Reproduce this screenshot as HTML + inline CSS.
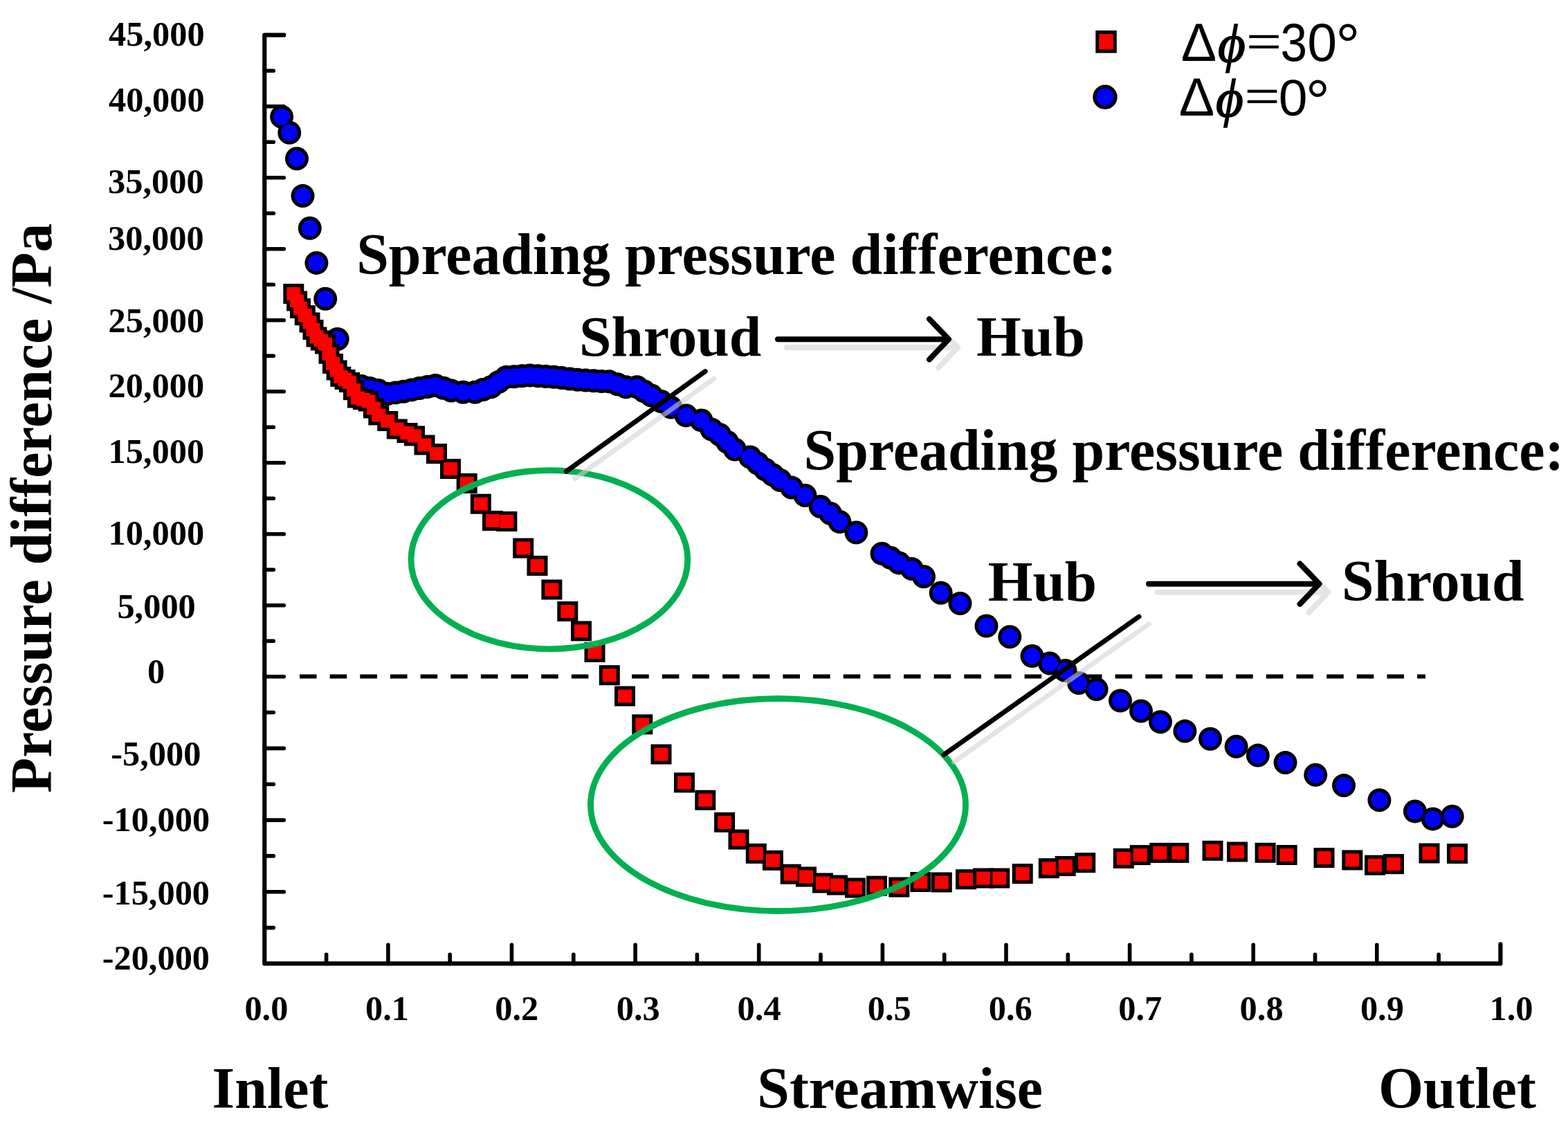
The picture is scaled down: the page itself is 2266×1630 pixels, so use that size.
<!DOCTYPE html>
<html><head><meta charset="utf-8"><title>Pressure difference chart</title>
<style>html,body{margin:0;padding:0;background:#fff;}svg{display:block;}</style></head>
<body><svg width="2266" height="1630" viewBox="0 0 2266 1630">
<rect width="2266" height="1630" fill="#fff"/>
<path d="M410.3,50.7 L382.3,50.7 L382.3,1392.4 L2168.4,1392.4 L2168.4,1364.4" fill="none" stroke="#000" stroke-width="6.2" stroke-linejoin="round" stroke-linecap="round"/>
<line x1="382.3" y1="102.2" x2="395.3" y2="102.2" stroke="#000" stroke-width="5.6" stroke-linecap="round"/>
<line x1="382.3" y1="153.7" x2="410.3" y2="153.7" stroke="#000" stroke-width="5.6" stroke-linecap="round"/>
<line x1="382.3" y1="205.2" x2="395.3" y2="205.2" stroke="#000" stroke-width="5.6" stroke-linecap="round"/>
<line x1="382.3" y1="256.7" x2="410.3" y2="256.7" stroke="#000" stroke-width="5.6" stroke-linecap="round"/>
<line x1="382.3" y1="308.2" x2="395.3" y2="308.2" stroke="#000" stroke-width="5.6" stroke-linecap="round"/>
<line x1="382.3" y1="359.7" x2="410.3" y2="359.7" stroke="#000" stroke-width="5.6" stroke-linecap="round"/>
<line x1="382.3" y1="411.2" x2="395.3" y2="411.2" stroke="#000" stroke-width="5.6" stroke-linecap="round"/>
<line x1="382.3" y1="462.7" x2="410.3" y2="462.7" stroke="#000" stroke-width="5.6" stroke-linecap="round"/>
<line x1="382.3" y1="514.2" x2="395.3" y2="514.2" stroke="#000" stroke-width="5.6" stroke-linecap="round"/>
<line x1="382.3" y1="565.7" x2="410.3" y2="565.7" stroke="#000" stroke-width="5.6" stroke-linecap="round"/>
<line x1="382.3" y1="617.2" x2="395.3" y2="617.2" stroke="#000" stroke-width="5.6" stroke-linecap="round"/>
<line x1="382.3" y1="668.7" x2="410.3" y2="668.7" stroke="#000" stroke-width="5.6" stroke-linecap="round"/>
<line x1="382.3" y1="720.2" x2="395.3" y2="720.2" stroke="#000" stroke-width="5.6" stroke-linecap="round"/>
<line x1="382.3" y1="771.7" x2="410.3" y2="771.7" stroke="#000" stroke-width="5.6" stroke-linecap="round"/>
<line x1="382.3" y1="823.2" x2="395.3" y2="823.2" stroke="#000" stroke-width="5.6" stroke-linecap="round"/>
<line x1="382.3" y1="874.7" x2="410.3" y2="874.7" stroke="#000" stroke-width="5.6" stroke-linecap="round"/>
<line x1="382.3" y1="926.2" x2="395.3" y2="926.2" stroke="#000" stroke-width="5.6" stroke-linecap="round"/>
<line x1="382.3" y1="977.7" x2="410.3" y2="977.7" stroke="#000" stroke-width="5.6" stroke-linecap="round"/>
<line x1="382.3" y1="1029.5" x2="395.3" y2="1029.5" stroke="#000" stroke-width="5.6" stroke-linecap="round"/>
<line x1="382.3" y1="1081.4" x2="410.3" y2="1081.4" stroke="#000" stroke-width="5.6" stroke-linecap="round"/>
<line x1="382.3" y1="1133.2" x2="395.3" y2="1133.2" stroke="#000" stroke-width="5.6" stroke-linecap="round"/>
<line x1="382.3" y1="1185.1" x2="410.3" y2="1185.1" stroke="#000" stroke-width="5.6" stroke-linecap="round"/>
<line x1="382.3" y1="1236.9" x2="395.3" y2="1236.9" stroke="#000" stroke-width="5.6" stroke-linecap="round"/>
<line x1="382.3" y1="1288.7" x2="410.3" y2="1288.7" stroke="#000" stroke-width="5.6" stroke-linecap="round"/>
<line x1="382.3" y1="1340.6" x2="395.3" y2="1340.6" stroke="#000" stroke-width="5.6" stroke-linecap="round"/>
<line x1="471.6" y1="1392.4" x2="471.6" y2="1379.4" stroke="#000" stroke-width="5.6" stroke-linecap="round"/>
<line x1="560.9" y1="1392.4" x2="560.9" y2="1365.4" stroke="#000" stroke-width="5.6" stroke-linecap="round"/>
<line x1="650.2" y1="1392.4" x2="650.2" y2="1379.4" stroke="#000" stroke-width="5.6" stroke-linecap="round"/>
<line x1="739.5" y1="1392.4" x2="739.5" y2="1365.4" stroke="#000" stroke-width="5.6" stroke-linecap="round"/>
<line x1="828.8" y1="1392.4" x2="828.8" y2="1379.4" stroke="#000" stroke-width="5.6" stroke-linecap="round"/>
<line x1="918.1" y1="1392.4" x2="918.1" y2="1365.4" stroke="#000" stroke-width="5.6" stroke-linecap="round"/>
<line x1="1007.4" y1="1392.4" x2="1007.4" y2="1379.4" stroke="#000" stroke-width="5.6" stroke-linecap="round"/>
<line x1="1096.7" y1="1392.4" x2="1096.7" y2="1365.4" stroke="#000" stroke-width="5.6" stroke-linecap="round"/>
<line x1="1186.0" y1="1392.4" x2="1186.0" y2="1379.4" stroke="#000" stroke-width="5.6" stroke-linecap="round"/>
<line x1="1275.4" y1="1392.4" x2="1275.4" y2="1365.4" stroke="#000" stroke-width="5.6" stroke-linecap="round"/>
<line x1="1364.7" y1="1392.4" x2="1364.7" y2="1379.4" stroke="#000" stroke-width="5.6" stroke-linecap="round"/>
<line x1="1454.0" y1="1392.4" x2="1454.0" y2="1365.4" stroke="#000" stroke-width="5.6" stroke-linecap="round"/>
<line x1="1543.3" y1="1392.4" x2="1543.3" y2="1379.4" stroke="#000" stroke-width="5.6" stroke-linecap="round"/>
<line x1="1632.6" y1="1392.4" x2="1632.6" y2="1365.4" stroke="#000" stroke-width="5.6" stroke-linecap="round"/>
<line x1="1721.9" y1="1392.4" x2="1721.9" y2="1379.4" stroke="#000" stroke-width="5.6" stroke-linecap="round"/>
<line x1="1811.2" y1="1392.4" x2="1811.2" y2="1365.4" stroke="#000" stroke-width="5.6" stroke-linecap="round"/>
<line x1="1900.5" y1="1392.4" x2="1900.5" y2="1379.4" stroke="#000" stroke-width="5.6" stroke-linecap="round"/>
<line x1="1989.8" y1="1392.4" x2="1989.8" y2="1365.4" stroke="#000" stroke-width="5.6" stroke-linecap="round"/>
<line x1="2079.1" y1="1392.4" x2="2079.1" y2="1379.4" stroke="#000" stroke-width="5.6" stroke-linecap="round"/>
<line x1="433" y1="977.5" x2="2060" y2="977.5" stroke="#000" stroke-width="6" stroke-dasharray="24.6 19.05"/>
<g fill="#000"><circle cx="407.1" cy="168.7" r="17.0"/><circle cx="418.3" cy="191.8" r="17.0"/><circle cx="429.0" cy="229.3" r="17.0"/><circle cx="437.5" cy="283.1" r="17.0"/><circle cx="447.8" cy="329.7" r="17.0"/><circle cx="457.4" cy="379.9" r="17.0"/><circle cx="470.2" cy="431.8" r="17.0"/><circle cx="487.7" cy="490.0" r="17.0"/><circle cx="522.0" cy="558.0" r="17.0"/><circle cx="534.2" cy="561.0" r="17.0"/><circle cx="546.5" cy="564.0" r="17.0"/><circle cx="560.3" cy="569.0" r="17.0"/><circle cx="571.8" cy="567.4" r="17.0"/><circle cx="583.3" cy="565.7" r="17.0"/><circle cx="594.8" cy="563.4" r="17.0"/><circle cx="606.2" cy="561.0" r="17.0"/><circle cx="617.7" cy="559.0" r="17.0"/><circle cx="629.2" cy="557.0" r="17.0"/><circle cx="640.7" cy="560.8" r="17.0"/><circle cx="652.1" cy="564.5" r="17.0"/><circle cx="669.3" cy="566.8" r="17.0"/><circle cx="686.5" cy="566.8" r="17.0"/><circle cx="698.0" cy="563.0" r="17.0"/><circle cx="709.5" cy="559.3" r="17.0"/><circle cx="720.5" cy="552.1" r="17.0"/><circle cx="731.5" cy="545.0" r="17.0"/><circle cx="743.0" cy="544.2" r="17.0"/><circle cx="754.4" cy="543.3" r="17.0"/><circle cx="765.9" cy="542.5" r="17.0"/><circle cx="777.4" cy="543.3" r="17.0"/><circle cx="788.8" cy="544.0" r="17.0"/><circle cx="800.3" cy="544.8" r="17.0"/><circle cx="811.8" cy="546.1" r="17.0"/><circle cx="823.2" cy="547.5" r="17.0"/><circle cx="834.7" cy="548.8" r="17.0"/><circle cx="846.2" cy="549.5" r="17.0"/><circle cx="857.7" cy="550.3" r="17.0"/><circle cx="869.2" cy="551.0" r="17.0"/><circle cx="880.0" cy="551.3" r="17.0"/><circle cx="892.2" cy="555.3" r="17.0"/><circle cx="904.5" cy="559.3" r="17.0"/><circle cx="920.5" cy="559.3" r="17.0"/><circle cx="930.9" cy="565.4" r="17.0"/><circle cx="941.3" cy="571.5" r="17.0"/><circle cx="955.4" cy="580.0" r="17.0"/><circle cx="969.5" cy="588.5" r="17.0"/><circle cx="991.5" cy="600.4" r="17.0"/><circle cx="1013.6" cy="607.4" r="17.0"/><circle cx="1028.4" cy="620.6" r="17.0"/><circle cx="1040.0" cy="628.0" r="17.0"/><circle cx="1051.0" cy="638.8" r="17.0"/><circle cx="1062.0" cy="649.5" r="17.0"/><circle cx="1084.0" cy="660.5" r="17.0"/><circle cx="1095.0" cy="669.5" r="17.0"/><circle cx="1106.0" cy="678.5" r="17.0"/><circle cx="1116.8" cy="686.2" r="17.0"/><circle cx="1127.6" cy="694.0" r="17.0"/><circle cx="1144.0" cy="704.6" r="17.0"/><circle cx="1163.5" cy="716.0" r="17.0"/><circle cx="1185.6" cy="732.0" r="17.0"/><circle cx="1200.0" cy="742.0" r="17.0"/><circle cx="1213.4" cy="754.0" r="17.0"/><circle cx="1237.4" cy="769.5" r="17.0"/><circle cx="1274.5" cy="799.9" r="17.0"/><circle cx="1287.0" cy="806.0" r="17.0"/><circle cx="1299.2" cy="813.4" r="17.0"/><circle cx="1317.7" cy="822.1" r="17.0"/><circle cx="1335.0" cy="833.2" r="17.0"/><circle cx="1359.7" cy="856.7" r="17.0"/><circle cx="1387.5" cy="872.0" r="17.0"/><circle cx="1425.5" cy="904.5" r="17.0"/><circle cx="1459.3" cy="920.3" r="17.0"/><circle cx="1491.5" cy="948.0" r="17.0"/><circle cx="1517.0" cy="958.5" r="17.0"/><circle cx="1539.5" cy="969.0" r="17.0"/><circle cx="1559.0" cy="987.0" r="17.0"/><circle cx="1584.6" cy="996.0" r="17.0"/><circle cx="1619.0" cy="1012.5" r="17.0"/><circle cx="1649.0" cy="1027.5" r="17.0"/><circle cx="1677.0" cy="1043.2" r="17.0"/><circle cx="1712.4" cy="1056.6" r="17.0"/><circle cx="1749.0" cy="1067.7" r="17.0"/><circle cx="1786.6" cy="1078.8" r="17.0"/><circle cx="1817.8" cy="1091.6" r="17.0"/><circle cx="1857.5" cy="1102.1" r="17.0"/><circle cx="1901.2" cy="1119.7" r="17.0"/><circle cx="1942.0" cy="1135.1" r="17.0"/><circle cx="1993.4" cy="1156.3" r="17.0"/><circle cx="2044.9" cy="1172.4" r="17.0"/><circle cx="2070.7" cy="1183.4" r="17.0"/><circle cx="2098.7" cy="1179.8" r="17.0"/></g><g fill="#0000ff"><circle cx="407.1" cy="168.7" r="12.0"/><circle cx="418.3" cy="191.8" r="12.0"/><circle cx="429.0" cy="229.3" r="12.0"/><circle cx="437.5" cy="283.1" r="12.0"/><circle cx="447.8" cy="329.7" r="12.0"/><circle cx="457.4" cy="379.9" r="12.0"/><circle cx="470.2" cy="431.8" r="12.0"/><circle cx="487.7" cy="490.0" r="12.0"/><circle cx="522.0" cy="558.0" r="12.0"/><circle cx="534.2" cy="561.0" r="12.0"/><circle cx="546.5" cy="564.0" r="12.0"/><circle cx="560.3" cy="569.0" r="12.0"/><circle cx="571.8" cy="567.4" r="12.0"/><circle cx="583.3" cy="565.7" r="12.0"/><circle cx="594.8" cy="563.4" r="12.0"/><circle cx="606.2" cy="561.0" r="12.0"/><circle cx="617.7" cy="559.0" r="12.0"/><circle cx="629.2" cy="557.0" r="12.0"/><circle cx="640.7" cy="560.8" r="12.0"/><circle cx="652.1" cy="564.5" r="12.0"/><circle cx="669.3" cy="566.8" r="12.0"/><circle cx="686.5" cy="566.8" r="12.0"/><circle cx="698.0" cy="563.0" r="12.0"/><circle cx="709.5" cy="559.3" r="12.0"/><circle cx="720.5" cy="552.1" r="12.0"/><circle cx="731.5" cy="545.0" r="12.0"/><circle cx="743.0" cy="544.2" r="12.0"/><circle cx="754.4" cy="543.3" r="12.0"/><circle cx="765.9" cy="542.5" r="12.0"/><circle cx="777.4" cy="543.3" r="12.0"/><circle cx="788.8" cy="544.0" r="12.0"/><circle cx="800.3" cy="544.8" r="12.0"/><circle cx="811.8" cy="546.1" r="12.0"/><circle cx="823.2" cy="547.5" r="12.0"/><circle cx="834.7" cy="548.8" r="12.0"/><circle cx="846.2" cy="549.5" r="12.0"/><circle cx="857.7" cy="550.3" r="12.0"/><circle cx="869.2" cy="551.0" r="12.0"/><circle cx="880.0" cy="551.3" r="12.0"/><circle cx="892.2" cy="555.3" r="12.0"/><circle cx="904.5" cy="559.3" r="12.0"/><circle cx="920.5" cy="559.3" r="12.0"/><circle cx="930.9" cy="565.4" r="12.0"/><circle cx="941.3" cy="571.5" r="12.0"/><circle cx="955.4" cy="580.0" r="12.0"/><circle cx="969.5" cy="588.5" r="12.0"/><circle cx="991.5" cy="600.4" r="12.0"/><circle cx="1013.6" cy="607.4" r="12.0"/><circle cx="1028.4" cy="620.6" r="12.0"/><circle cx="1040.0" cy="628.0" r="12.0"/><circle cx="1051.0" cy="638.8" r="12.0"/><circle cx="1062.0" cy="649.5" r="12.0"/><circle cx="1084.0" cy="660.5" r="12.0"/><circle cx="1095.0" cy="669.5" r="12.0"/><circle cx="1106.0" cy="678.5" r="12.0"/><circle cx="1116.8" cy="686.2" r="12.0"/><circle cx="1127.6" cy="694.0" r="12.0"/><circle cx="1144.0" cy="704.6" r="12.0"/><circle cx="1163.5" cy="716.0" r="12.0"/><circle cx="1185.6" cy="732.0" r="12.0"/><circle cx="1200.0" cy="742.0" r="12.0"/><circle cx="1213.4" cy="754.0" r="12.0"/><circle cx="1237.4" cy="769.5" r="12.0"/><circle cx="1274.5" cy="799.9" r="12.0"/><circle cx="1287.0" cy="806.0" r="12.0"/><circle cx="1299.2" cy="813.4" r="12.0"/><circle cx="1317.7" cy="822.1" r="12.0"/><circle cx="1335.0" cy="833.2" r="12.0"/><circle cx="1359.7" cy="856.7" r="12.0"/><circle cx="1387.5" cy="872.0" r="12.0"/><circle cx="1425.5" cy="904.5" r="12.0"/><circle cx="1459.3" cy="920.3" r="12.0"/><circle cx="1491.5" cy="948.0" r="12.0"/><circle cx="1517.0" cy="958.5" r="12.0"/><circle cx="1539.5" cy="969.0" r="12.0"/><circle cx="1559.0" cy="987.0" r="12.0"/><circle cx="1584.6" cy="996.0" r="12.0"/><circle cx="1619.0" cy="1012.5" r="12.0"/><circle cx="1649.0" cy="1027.5" r="12.0"/><circle cx="1677.0" cy="1043.2" r="12.0"/><circle cx="1712.4" cy="1056.6" r="12.0"/><circle cx="1749.0" cy="1067.7" r="12.0"/><circle cx="1786.6" cy="1078.8" r="12.0"/><circle cx="1817.8" cy="1091.6" r="12.0"/><circle cx="1857.5" cy="1102.1" r="12.0"/><circle cx="1901.2" cy="1119.7" r="12.0"/><circle cx="1942.0" cy="1135.1" r="12.0"/><circle cx="1993.4" cy="1156.3" r="12.0"/><circle cx="2044.9" cy="1172.4" r="12.0"/><circle cx="2070.7" cy="1183.4" r="12.0"/><circle cx="2098.7" cy="1179.8" r="12.0"/></g>
<g fill="#000"><rect x="409.3" y="410.0" width="30.0" height="29.0"/><rect x="419.0" y="431.0" width="30.0" height="29.0"/><rect x="432.5" y="451.5" width="30.0" height="29.0"/><rect x="442.5" y="472.5" width="30.0" height="29.0"/><rect x="455.0" y="482.5" width="30.0" height="29.0"/><rect x="466.0" y="511.0" width="30.0" height="29.0"/><rect x="477.3" y="529.9" width="30.0" height="29.0"/><rect x="490.0" y="538.0" width="30.0" height="29.0"/><rect x="502.0" y="560.5" width="30.0" height="29.0"/><rect x="517.6" y="565.5" width="30.0" height="29.0"/><rect x="532.3" y="585.5" width="30.0" height="29.0"/><rect x="545.3" y="594.0" width="30.0" height="29.0"/><rect x="558.8" y="605.5" width="30.0" height="29.0"/><rect x="573.5" y="611.1" width="30.0" height="29.0"/><rect x="584.0" y="615.4" width="30.0" height="29.0"/><rect x="598.5" y="628.5" width="30.0" height="29.0"/><rect x="616.0" y="641.1" width="30.0" height="29.0"/><rect x="636.0" y="663.0" width="30.0" height="29.0"/><rect x="659.7" y="684.0" width="30.0" height="29.0"/><rect x="679.8" y="713.7" width="30.0" height="29.0"/><rect x="697.0" y="738.0" width="30.0" height="29.0"/><rect x="717.4" y="739.0" width="30.0" height="29.0"/><rect x="741.2" y="777.6" width="30.0" height="29.0"/><rect x="761.5" y="803.0" width="30.0" height="29.0"/><rect x="782.4" y="837.5" width="30.0" height="29.0"/><rect x="805.3" y="869.0" width="30.0" height="29.0"/><rect x="825.0" y="897.4" width="30.0" height="29.0"/><rect x="844.5" y="927.9" width="30.0" height="29.0"/><rect x="865.8" y="961.2" width="30.0" height="29.0"/><rect x="888.0" y="991.5" width="30.0" height="29.0"/><rect x="913.3" y="1032.3" width="30.0" height="29.0"/><rect x="940.5" y="1075.5" width="30.0" height="29.0"/><rect x="974.0" y="1116.4" width="30.0" height="29.0"/><rect x="1004.3" y="1141.7" width="30.0" height="29.0"/><rect x="1032.1" y="1173.8" width="30.0" height="29.0"/><rect x="1052.5" y="1198.6" width="30.0" height="29.0"/><rect x="1077.8" y="1218.9" width="30.0" height="29.0"/><rect x="1101.9" y="1228.8" width="30.0" height="29.0"/><rect x="1127.7" y="1248.7" width="30.0" height="29.0"/><rect x="1150.0" y="1252.5" width="30.0" height="29.0"/><rect x="1174.0" y="1261.5" width="30.0" height="29.0"/><rect x="1195.0" y="1264.5" width="30.0" height="29.0"/><rect x="1221.0" y="1268.5" width="30.0" height="29.0"/><rect x="1252.0" y="1265.7" width="30.0" height="29.0"/><rect x="1284.3" y="1267.5" width="30.0" height="29.0"/><rect x="1315.4" y="1260.0" width="30.0" height="29.0"/><rect x="1345.8" y="1260.5" width="30.0" height="29.0"/><rect x="1381.0" y="1256.2" width="30.0" height="29.0"/><rect x="1406.0" y="1254.5" width="30.0" height="29.0"/><rect x="1429.3" y="1254.5" width="30.0" height="29.0"/><rect x="1462.7" y="1248.1" width="30.0" height="29.0"/><rect x="1500.8" y="1240.2" width="30.0" height="29.0"/><rect x="1524.6" y="1237.0" width="30.0" height="29.0"/><rect x="1553.2" y="1232.2" width="30.0" height="29.0"/><rect x="1608.8" y="1225.9" width="30.0" height="29.0"/><rect x="1632.7" y="1221.1" width="30.0" height="29.0"/><rect x="1661.3" y="1217.9" width="30.0" height="29.0"/><rect x="1688.3" y="1217.9" width="30.0" height="29.0"/><rect x="1737.5" y="1214.8" width="30.0" height="29.0"/><rect x="1773.0" y="1216.5" width="30.0" height="29.0"/><rect x="1813.6" y="1217.8" width="30.0" height="29.0"/><rect x="1844.6" y="1221.0" width="30.0" height="29.0"/><rect x="1898.5" y="1225.1" width="30.0" height="29.0"/><rect x="1939.3" y="1228.4" width="30.0" height="29.0"/><rect x="1972.0" y="1235.7" width="30.0" height="29.0"/><rect x="1999.0" y="1234.1" width="30.0" height="29.0"/><rect x="2050.5" y="1218.5" width="30.0" height="29.0"/><rect x="2091.0" y="1219.0" width="30.0" height="29.0"/><rect x="414.1" y="420.5" width="30.0" height="29.0"/><rect x="425.8" y="441.2" width="30.0" height="29.0"/><rect x="437.5" y="462.0" width="30.0" height="29.0"/><rect x="448.8" y="477.5" width="30.0" height="29.0"/><rect x="460.5" y="496.8" width="30.0" height="29.0"/><rect x="471.6" y="520.5" width="30.0" height="29.0"/><rect x="483.6" y="534.0" width="30.0" height="29.0"/><rect x="496.0" y="549.2" width="30.0" height="29.0"/><rect x="509.8" y="563.0" width="30.0" height="29.0"/><rect x="525.0" y="575.5" width="30.0" height="29.0"/></g><g fill="#ff0000"><rect x="414.3" y="415.0" width="20.0" height="19.0"/><rect x="424.0" y="436.0" width="20.0" height="19.0"/><rect x="437.5" y="456.5" width="20.0" height="19.0"/><rect x="447.5" y="477.5" width="20.0" height="19.0"/><rect x="460.0" y="487.5" width="20.0" height="19.0"/><rect x="471.0" y="516.0" width="20.0" height="19.0"/><rect x="482.3" y="534.9" width="20.0" height="19.0"/><rect x="495.0" y="543.0" width="20.0" height="19.0"/><rect x="507.0" y="565.5" width="20.0" height="19.0"/><rect x="522.6" y="570.5" width="20.0" height="19.0"/><rect x="537.3" y="590.5" width="20.0" height="19.0"/><rect x="550.3" y="599.0" width="20.0" height="19.0"/><rect x="563.8" y="610.5" width="20.0" height="19.0"/><rect x="578.5" y="616.1" width="20.0" height="19.0"/><rect x="589.0" y="620.4" width="20.0" height="19.0"/><rect x="603.5" y="633.5" width="20.0" height="19.0"/><rect x="621.0" y="646.1" width="20.0" height="19.0"/><rect x="641.0" y="668.0" width="20.0" height="19.0"/><rect x="664.7" y="689.0" width="20.0" height="19.0"/><rect x="684.8" y="718.7" width="20.0" height="19.0"/><rect x="702.0" y="743.0" width="20.0" height="19.0"/><rect x="722.4" y="744.0" width="20.0" height="19.0"/><rect x="746.2" y="782.6" width="20.0" height="19.0"/><rect x="766.5" y="808.0" width="20.0" height="19.0"/><rect x="787.4" y="842.5" width="20.0" height="19.0"/><rect x="810.3" y="874.0" width="20.0" height="19.0"/><rect x="830.0" y="902.4" width="20.0" height="19.0"/><rect x="849.5" y="932.9" width="20.0" height="19.0"/><rect x="870.8" y="966.2" width="20.0" height="19.0"/><rect x="893.0" y="996.5" width="20.0" height="19.0"/><rect x="918.3" y="1037.3" width="20.0" height="19.0"/><rect x="945.5" y="1080.5" width="20.0" height="19.0"/><rect x="979.0" y="1121.4" width="20.0" height="19.0"/><rect x="1009.3" y="1146.7" width="20.0" height="19.0"/><rect x="1037.1" y="1178.8" width="20.0" height="19.0"/><rect x="1057.5" y="1203.6" width="20.0" height="19.0"/><rect x="1082.8" y="1223.9" width="20.0" height="19.0"/><rect x="1106.9" y="1233.8" width="20.0" height="19.0"/><rect x="1132.7" y="1253.7" width="20.0" height="19.0"/><rect x="1155.0" y="1257.5" width="20.0" height="19.0"/><rect x="1179.0" y="1266.5" width="20.0" height="19.0"/><rect x="1200.0" y="1269.5" width="20.0" height="19.0"/><rect x="1226.0" y="1273.5" width="20.0" height="19.0"/><rect x="1257.0" y="1270.7" width="20.0" height="19.0"/><rect x="1289.3" y="1272.5" width="20.0" height="19.0"/><rect x="1320.4" y="1265.0" width="20.0" height="19.0"/><rect x="1350.8" y="1265.5" width="20.0" height="19.0"/><rect x="1386.0" y="1261.2" width="20.0" height="19.0"/><rect x="1411.0" y="1259.5" width="20.0" height="19.0"/><rect x="1434.3" y="1259.5" width="20.0" height="19.0"/><rect x="1467.7" y="1253.1" width="20.0" height="19.0"/><rect x="1505.8" y="1245.2" width="20.0" height="19.0"/><rect x="1529.6" y="1242.0" width="20.0" height="19.0"/><rect x="1558.2" y="1237.2" width="20.0" height="19.0"/><rect x="1613.8" y="1230.9" width="20.0" height="19.0"/><rect x="1637.7" y="1226.1" width="20.0" height="19.0"/><rect x="1666.3" y="1222.9" width="20.0" height="19.0"/><rect x="1693.3" y="1222.9" width="20.0" height="19.0"/><rect x="1742.5" y="1219.8" width="20.0" height="19.0"/><rect x="1778.0" y="1221.5" width="20.0" height="19.0"/><rect x="1818.6" y="1222.8" width="20.0" height="19.0"/><rect x="1849.6" y="1226.0" width="20.0" height="19.0"/><rect x="1903.5" y="1230.1" width="20.0" height="19.0"/><rect x="1944.3" y="1233.4" width="20.0" height="19.0"/><rect x="1977.0" y="1240.7" width="20.0" height="19.0"/><rect x="2004.0" y="1239.1" width="20.0" height="19.0"/><rect x="2055.5" y="1223.5" width="20.0" height="19.0"/><rect x="2096.0" y="1224.0" width="20.0" height="19.0"/><rect x="419.1" y="425.5" width="20.0" height="19.0"/><rect x="430.8" y="446.2" width="20.0" height="19.0"/><rect x="442.5" y="467.0" width="20.0" height="19.0"/><rect x="453.8" y="482.5" width="20.0" height="19.0"/><rect x="465.5" y="501.8" width="20.0" height="19.0"/><rect x="476.6" y="525.5" width="20.0" height="19.0"/><rect x="488.6" y="539.0" width="20.0" height="19.0"/><rect x="501.0" y="554.2" width="20.0" height="19.0"/><rect x="514.8" y="568.0" width="20.0" height="19.0"/><rect x="530.0" y="580.5" width="20.0" height="19.0"/></g>
<text x="157.0" y="66.3" style="font-family:'Liberation Serif','Times New Roman',serif;font-weight:bold;font-size:50.40px">45,000</text>
<text x="157.0" y="160.5" style="font-family:'Liberation Serif','Times New Roman',serif;font-weight:bold;font-size:50.40px">40,000</text>
<text x="156.1" y="278.9" style="font-family:'Liberation Serif','Times New Roman',serif;font-weight:bold;font-size:50.40px">35,000</text>
<text x="156.1" y="361.0" style="font-family:'Liberation Serif','Times New Roman',serif;font-weight:bold;font-size:50.40px">30,000</text>
<text x="156.6" y="479.7" style="font-family:'Liberation Serif','Times New Roman',serif;font-weight:bold;font-size:50.40px">25,000</text>
<text x="156.6" y="574.1" style="font-family:'Liberation Serif','Times New Roman',serif;font-weight:bold;font-size:50.40px">20,000</text>
<text x="156.5" y="669.1" style="font-family:'Liberation Serif','Times New Roman',serif;font-weight:bold;font-size:50.40px">15,000</text>
<text x="156.5" y="787.2" style="font-family:'Liberation Serif','Times New Roman',serif;font-weight:bold;font-size:50.40px">10,000</text>
<text x="169.4" y="893.4" style="font-family:'Liberation Serif','Times New Roman',serif;font-weight:bold;font-size:50.40px">5,000</text>
<text x="213.0" y="987.3" style="font-family:'Liberation Serif','Times New Roman',serif;font-weight:bold;font-size:50.40px">0</text>
<text x="160.3" y="1105.7" style="font-family:'Liberation Serif','Times New Roman',serif;font-weight:bold;font-size:50.40px">-5,000</text>
<text x="147.8" y="1200.5" style="font-family:'Liberation Serif','Times New Roman',serif;font-weight:bold;font-size:50.40px">-10,000</text>
<text x="147.7" y="1307.0" style="font-family:'Liberation Serif','Times New Roman',serif;font-weight:bold;font-size:50.40px">-15,000</text>
<text x="147.7" y="1401.2" style="font-family:'Liberation Serif','Times New Roman',serif;font-weight:bold;font-size:50.40px">-20,000</text>
<text x="353.4" y="1473.8" style="font-family:'Liberation Serif','Times New Roman',serif;font-weight:bold;font-size:50.40px">0.0</text>
<text x="528.0" y="1473.8" style="font-family:'Liberation Serif','Times New Roman',serif;font-weight:bold;font-size:50.40px">0.1</text>
<text x="715.3" y="1473.8" style="font-family:'Liberation Serif','Times New Roman',serif;font-weight:bold;font-size:50.40px">0.2</text>
<text x="890.8" y="1473.8" style="font-family:'Liberation Serif','Times New Roman',serif;font-weight:bold;font-size:50.40px">0.3</text>
<text x="1065.6" y="1473.8" style="font-family:'Liberation Serif','Times New Roman',serif;font-weight:bold;font-size:50.40px">0.4</text>
<text x="1253.8" y="1473.8" style="font-family:'Liberation Serif','Times New Roman',serif;font-weight:bold;font-size:50.40px">0.5</text>
<text x="1428.8" y="1473.8" style="font-family:'Liberation Serif','Times New Roman',serif;font-weight:bold;font-size:50.40px">0.6</text>
<text x="1616.3" y="1473.8" style="font-family:'Liberation Serif','Times New Roman',serif;font-weight:bold;font-size:50.40px">0.7</text>
<text x="1791.6" y="1473.8" style="font-family:'Liberation Serif','Times New Roman',serif;font-weight:bold;font-size:50.40px">0.8</text>
<text x="1965.9" y="1473.8" style="font-family:'Liberation Serif','Times New Roman',serif;font-weight:bold;font-size:50.40px">0.9</text>
<text x="2152.5" y="1473.8" style="font-family:'Liberation Serif','Times New Roman',serif;font-weight:bold;font-size:50.40px">1.0</text>
<text x="306.6" y="1601.0" style="font-family:'Liberation Serif','Times New Roman',serif;font-weight:bold;font-size:83.93px">Inlet</text>
<text x="1094.3" y="1601.4" style="font-family:'Liberation Serif','Times New Roman',serif;font-weight:bold;font-size:83.82px">Streamwise</text>
<text x="1991.9" y="1601.1" style="font-family:'Liberation Serif','Times New Roman',serif;font-weight:bold;font-size:83.78px">Outlet</text>
<text transform="translate(73.6,1145.9) rotate(-90)" x="0" y="0" style="font-family:'Liberation Serif','Times New Roman',serif;font-weight:bold;font-size:83.74px">Pressure difference /Pa</text>
<text x="515.2" y="395.7" style="font-family:'Liberation Serif','Times New Roman',serif;font-weight:bold;font-size:83.92px">Spreading pressure difference:</text>
<text x="1161.6" y="679.2" style="font-family:'Liberation Serif','Times New Roman',serif;font-weight:bold;font-size:83.94px">Spreading pressure difference:</text>
<text x="837.1" y="513.6" style="font-family:'Liberation Serif','Times New Roman',serif;font-weight:bold;font-size:83.53px">Shroud</text>
<text x="1410.9" y="513.6" style="font-family:'Liberation Serif','Times New Roman',serif;font-weight:bold;font-size:83.20px">Hub</text>
<text x="1427.7" y="867.9" style="font-family:'Liberation Serif','Times New Roman',serif;font-weight:bold;font-size:83.20px">Hub</text>
<text x="1939.0" y="867.7" style="font-family:'Liberation Serif','Times New Roman',serif;font-weight:bold;font-size:83.70px">Shroud</text>
<path d="M1137,502.2 L1382,502.2 M1356,473.0 L1384,502.2 L1356,531.4" fill="none" stroke="rgb(210,210,210)" stroke-opacity="0.6" stroke-width="8" stroke-linecap="round" stroke-linejoin="round"/><path d="M1124,490.2 L1369,490.2 M1343,461.0 L1371,490.2 L1343,519.4" fill="none" stroke="#000" stroke-width="8" stroke-linecap="round" stroke-linejoin="round"/>
<path d="M1673,855.7 L1917.5,855.7 M1891.5,826.5 L1919.5,855.7 L1891.5,884.9000000000001" fill="none" stroke="rgb(210,210,210)" stroke-opacity="0.6" stroke-width="8" stroke-linecap="round" stroke-linejoin="round"/><path d="M1660,843.7 L1904.5,843.7 M1878.5,814.5 L1906.5,843.7 L1878.5,872.9000000000001" fill="none" stroke="#000" stroke-width="8" stroke-linecap="round" stroke-linejoin="round"/>
<ellipse cx="793.9" cy="808.7" rx="199.9" ry="129.1" fill="none" stroke="#00b050" stroke-width="8.8"/>
<ellipse cx="1124.5" cy="1163" rx="271" ry="153.5" fill="none" stroke="#00b050" stroke-width="8.8"/>
<line x1="830.8" y1="691.9" x2="1031.6000000000001" y2="547.4" stroke="rgb(210,210,210)" stroke-opacity="0.6" stroke-width="7" stroke-linecap="round"/><line x1="818.4" y1="681.1" x2="1019.2" y2="536.6" stroke="#000" stroke-width="7" stroke-linecap="round"/>
<line x1="1378.5" y1="1101.1" x2="1660.5" y2="901.5" stroke="rgb(210,210,210)" stroke-opacity="0.6" stroke-width="7" stroke-linecap="round"/><line x1="1364" y1="1090.6" x2="1646" y2="891" stroke="#000" stroke-width="7" stroke-linecap="round"/>
<rect x="1585.8" y="46.6" width="25.5" height="27.5" fill="#ff0000" stroke="#000" stroke-width="5"/>
<circle cx="1597" cy="140.3" r="15.2" fill="#0000ff" stroke="#000" stroke-width="5"/>
<text x="1706.7" y="88" style="font-family:'Liberation Sans',Arial,sans-serif;font-size:77px">&#916;</text>
<text x="1760" y="88.5" style="font-family:'Liberation Serif','Times New Roman',serif;font-style:italic;font-size:77px" stroke="#000" stroke-width="1.6">&#981;</text>
<text transform="translate(1801,80) scale(1.2,0.8)" style="font-family:'Liberation Sans',Arial,sans-serif;font-size:73px">=</text>
<text transform="translate(1850.5,88) scale(0.9,1)" style="font-family:'Liberation Sans',Arial,sans-serif;font-size:77px">3</text>
<text x="1889.3" y="88" style="font-family:'Liberation Sans',Arial,sans-serif;font-size:77px">0</text>
<text x="1930.2" y="96.3" style="font-family:'Liberation Sans',Arial,sans-serif;font-size:88px">&#176;</text>
<text x="1703.7" y="167" style="font-family:'Liberation Sans',Arial,sans-serif;font-size:77px">&#916;</text>
<text x="1757" y="167.5" style="font-family:'Liberation Serif','Times New Roman',serif;font-style:italic;font-size:77px" stroke="#000" stroke-width="1.6">&#981;</text>
<text transform="translate(1798.5,158.5) scale(1.2,0.8)" style="font-family:'Liberation Sans',Arial,sans-serif;font-size:73px">=</text>
<text x="1847.7" y="167" style="font-family:'Liberation Sans',Arial,sans-serif;font-size:75px">0</text>
<text x="1886.7" y="177" style="font-family:'Liberation Sans',Arial,sans-serif;font-size:88px">&#176;</text>
</svg></body></html>
